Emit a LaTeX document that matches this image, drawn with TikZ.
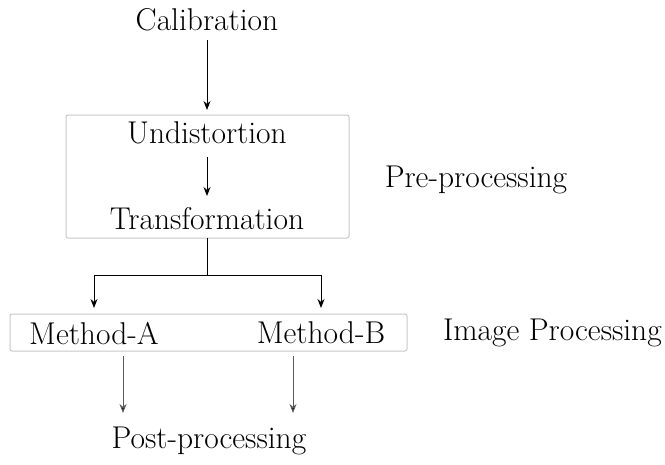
\documentclass[tikz,border=0pt]{standalone}
\usetikzlibrary{arrows.meta}
\begin{document}
\begin{tikzpicture}[x=1pt,y=-1pt,
  lbl/.style={inner sep=0pt,font=\fontsize{31.5}{34}\selectfont},
  grpbox/.style={draw=black!22,line width=1pt,rounded corners=2pt},
  conn/.style={line width=1pt,-{Stealth[length=9pt,width=7pt]}},
  conng/.style={conn,draw=black!65,-{Stealth[length=9pt,width=7pt,fill=black]}}]
\useasboundingbox (0,0) rectangle (665,464);
\node[lbl] (cal) at (207,20) {Calibration};
\draw[grpbox] (66,115) rectangle (349,238);
\coordinate (b1top) at (207,115);
\coordinate (b1bot) at (207,238);
\node[lbl] (und) at (207,133) {Undistortion};
\node[lbl] (tra) at (207,219) {Transformation};
\node[lbl] (pre) at (476,180) {Pre-processing};
\draw[grpbox] (10,314) rectangle (407,351);
\node[lbl] (ma) at (94,333) {Method-A};
\node[lbl] (mb) at (321,333) {Method-B};
\node[lbl,anchor=east] (ip) at (662,333) {Image Processing};
\node[lbl] (post) at (209,441) {Post-processing};
\coordinate (split) at (207,275);
\coordinate (ta) at (94,308);
\coordinate (tb) at (321,308);
\coordinate (la) at (123,356);
\coordinate (lb) at (293,356);
\coordinate (pa) at (123,413);
\coordinate (pb) at (293,413);
\draw[conn] (cal.south |- 0,40) -- (b1top |- 0,110);
\draw[conn] (207,157) -- (207,196);
\draw[line width=1pt] (b1bot) -- (split);
\draw[conn] (split) -| (ta);
\draw[conn] (split) -| (tb);
\draw[conng] (la) -- (pa);
\draw[conng] (lb) -- (pb);
\end{tikzpicture}
\end{document}
